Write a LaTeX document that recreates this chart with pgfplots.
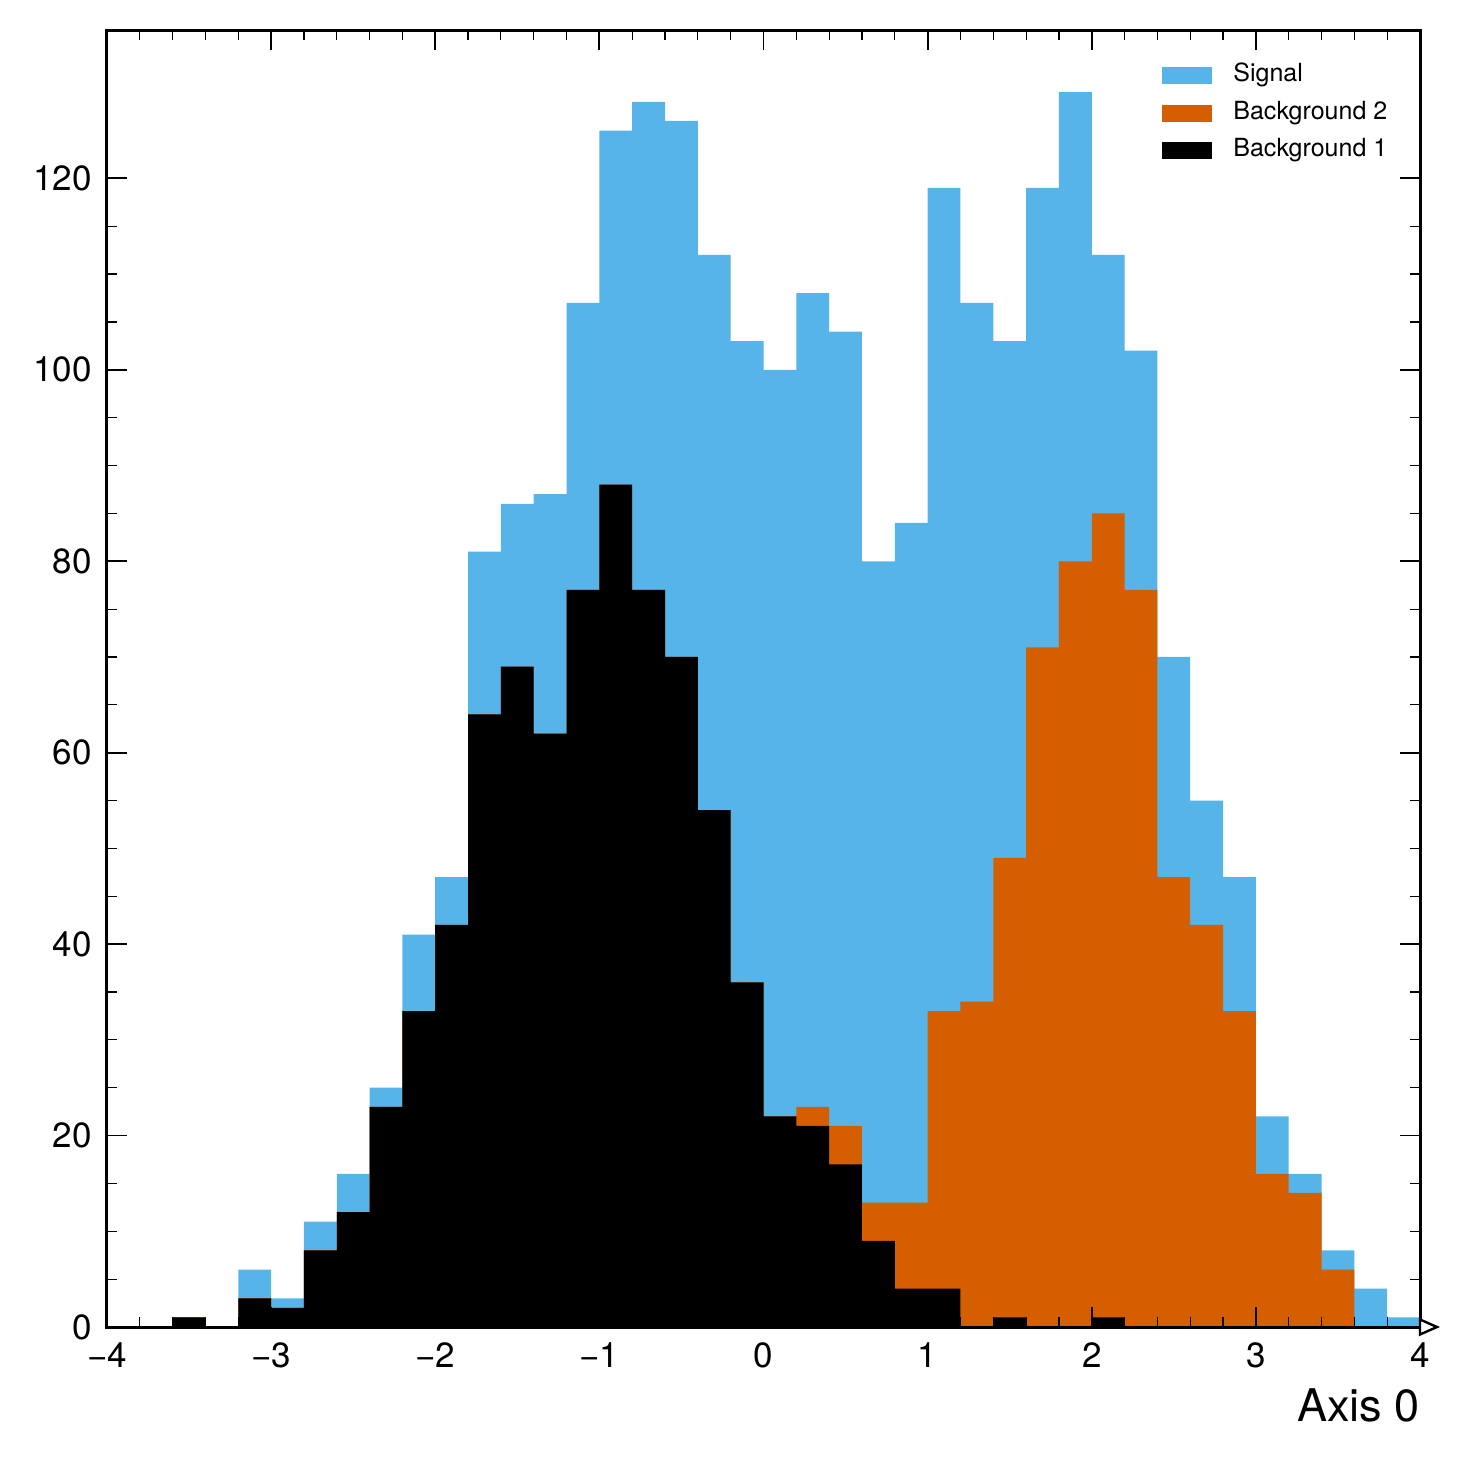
\documentclass[border=0pt]{standalone}
\usepackage{pgfplots}
\pgfplotsset{compat=1.18}
\usepackage{fontspec}
\setmainfont{TeX Gyre Heros}
\definecolor{sig}{RGB}{86,180,233}
\definecolor{bkgtwo}{RGB}{213,94,0}
\begin{document}
\begin{tikzpicture}
\useasboundingbox (-53.5pt,-67pt) rectangle (677pt,663.5pt);
\begin{axis}[
  at={(0pt,0pt)}, anchor=south west,
  scale only axis, width=656.5pt, height=648.25pt,
  xmin=-4, xmax=4, ymin=0, ymax=135.45,
  axis on top,
  tick align=inside, tick pos=both,
  xtick={-4,-3,-2,-1,0,1,2,3,4},
  xticklabels={−4,−3,−2,−1,0,1,2,3,4},
  ytick={0,20,40,60,80,100,120},
  yticklabels={0,20,40,60,80,100,120},
  minor x tick num=4, minor y tick num=3,
  major tick length=10pt, minor tick length=5pt,
  major tick style={line width=0.9pt, black},
  minor tick style={line width=0.6pt, black},
  axis line style={line width=1.5pt},
  tick label style={font=\fontsize{17.5}{20}\selectfont},
  xticklabel style={inner sep=0pt, yshift=-7.5pt},
  yticklabel style={inner sep=0pt, xshift=-7.5pt},
  xlabel={Axis 0},
  every axis x label/.style={at={(rel axis cs:1,0)}, anchor=base east, yshift=-47pt, inner sep=0pt, font=\fontsize{22.5}{27}\selectfont},
  legend image code/.code={\fill[#1] (0pt,-4.25pt) rectangle (25pt,4.25pt);},
  legend cell align=left,
  legend style={at={(rel axis cs:0.8035,0.975)}, anchor=north west, draw=none, fill=none, inner sep=0pt,
    row sep=6.5pt, column sep=10.5pt,
    nodes={inner sep=0pt, text height=9.25pt, text depth=3pt},
    font=\fontsize{12.5}{15}\selectfont},
]
\addplot[const plot mark left, fill=sig, draw=none] coordinates {
(-4.0,0)(-3.8,0)(-3.6,1)(-3.4,0)(-3.2,6)(-3.0,3)(-2.8,11)(-2.6,16)(-2.4,25)(-2.2,41)
(-2.0,47)(-1.8,81)(-1.6,86)(-1.4,87)(-1.2,107)(-1.0,125)(-0.8,128)(-0.6,126)(-0.4,112)(-0.2,103)
(0.0,100)(0.2,108)(0.4,104)(0.6,80)(0.8,84)(1.0,119)(1.2,107)(1.4,103)(1.6,119)(1.8,129)
(2.0,112)(2.2,102)(2.4,70)(2.6,55)(2.8,47)(3.0,22)(3.2,16)(3.4,8)(3.6,4)(3.8,1)(4.0,1)
} \closedcycle;
\addlegendentry{Signal}
\addplot[const plot mark left, fill=bkgtwo, draw=none] coordinates {
(-4.0,0)(-3.8,0)(-3.6,1)(-3.4,0)(-3.2,3)(-3.0,2)(-2.8,8)(-2.6,12)(-2.4,23)(-2.2,33)
(-2.0,42)(-1.8,64)(-1.6,69)(-1.4,62)(-1.2,77)(-1.0,88)(-0.8,77)(-0.6,70)(-0.4,54)(-0.2,36)
(0.0,22)(0.2,23)(0.4,21)(0.6,13)(0.8,13)(1.0,33)(1.2,34)(1.4,49)(1.6,71)(1.8,80)
(2.0,85)(2.2,77)(2.4,47)(2.6,42)(2.8,33)(3.0,16)(3.2,14)(3.4,6)(3.6,0)(3.8,0)(4.0,0)
} \closedcycle;
\addlegendentry{Background 2}
\addplot[const plot mark left, fill=black, draw=none] coordinates {
(-4.0,0)(-3.8,0)(-3.6,1)(-3.4,0)(-3.2,3)(-3.0,2)(-2.8,8)(-2.6,12)(-2.4,23)(-2.2,33)
(-2.0,42)(-1.8,64)(-1.6,69)(-1.4,62)(-1.2,77)(-1.0,88)(-0.8,77)(-0.6,70)(-0.4,54)(-0.2,36)
(0.0,22)(0.2,21)(0.4,17)(0.6,9)(0.8,4)(1.0,4)(1.2,0)(1.4,1)(1.6,0)(1.8,0)
(2.0,1)(2.2,0)(2.4,0)(2.6,0)(2.8,0)(3.0,0)(3.2,0)(3.4,0)(3.6,0)(3.8,0)(4.0,0)
} \closedcycle;
\addlegendentry{Background 1}
\end{axis}
\draw[line width=1.2pt, fill=white, line join=miter] (656.5pt,3.75pt) -- (665pt,0pt) -- (656.5pt,-3.75pt) -- cycle;
\end{tikzpicture}
\end{document}
